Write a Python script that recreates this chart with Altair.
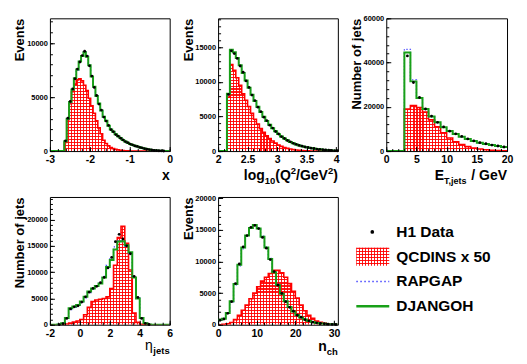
import altair as alt
import numpy as np
import pandas as pd

FONT = "Liberation Sans"
RED = "#ff0000"
GREEN = "#18a018"
BLUE = "#4646ff"

# ---------------- data ----------------
# panel 1 : x (log10 Bjorken x), bins of 0.06 from -3
x_lo, x_w = -3.0, 0.06
x_djangoh = [0, 0, 0, 0, 0, 0, 900, 3000, 4550, 5700, 6750, 7550, 8300, 8800, 9150, 8750, 7950, 6900, 5950, 5100,
             4400, 3750, 3180, 2800, 2350, 2000, 1780, 1550, 1370, 1200, 1020, 890, 770, 660, 570, 490, 420, 350, 290, 230,
             180, 140, 105, 75, 50, 35, 20, 10, 0, 0]
x_rapgap = [0, 0, 0, 0, 0, 0, 850, 2950, 4500, 5650, 6700, 7500, 8250, 8800, 9200, 8800, 8000, 6950, 5950, 5100,
            4400, 3750, 3200, 2780, 2350, 2020, 1770, 1550, 1360, 1190, 1020, 880, 760, 650, 560, 480, 410, 340, 280, 225,
            175, 135, 100, 72, 48, 32, 18, 9, 0, 0]
x_data = [0, 0, 0, 0, 0, 0, 950, 3050, 4600, 5750, 6700, 7600, 8250, 8850, 9250, 8800, 7900, 6950, 5900, 5150,
          4350, 3800, 3150, 2780, 2380, 1980, 1790, 1530, 1380, 1190, 1030, 880, 780, 650, 580, 480, 430, 340, 300, 225,
          185, 135, 110, 70, 52, 32, 22, 8, 0, 0]
x_qcdins = [0, 0, 0, 0, 0, 0, 800, 2900, 4400, 5500, 6200, 6600, 6700, 6500, 6100, 5600, 4900, 4200, 3500, 2800,
            2150, 1600, 1000, 700, 480, 330, 230, 160, 110, 70, 45, 25, 15, 0, 0, 0, 0, 0, 0, 0,
            0, 0, 0, 0, 0, 0, 0, 0, 0, 0]

# panel 2 : log10(Q2/GeV2), bins of 0.05 from 2.0
q_lo, q_w = 2.0, 0.05
q_djangoh = [0, 0, 0, 8300, 14650, 14300, 13450, 12400, 11300, 10200, 9150, 8150, 7250, 6400, 5650, 4950, 4350, 3800,
             3300, 2850, 2450, 2100, 1800, 1550, 1320, 1130, 960, 820, 700, 600, 510, 430, 360, 300, 250, 200, 160, 120,
             90, 60, 40]
q_rapgap = [0, 0, 0, 8100, 14500, 14250, 13400, 12450, 11350, 10200, 9100, 8100, 7200, 6350, 5600, 4950, 4300, 3780,
            3280, 2830, 2440, 2080, 1790, 1540, 1310, 1120, 950, 810, 690, 590, 500, 420, 350, 290, 240, 195, 155, 115,
            85, 58, 38]
q_data = [0, 0, 0, 8200, 14500, 14100, 13400, 12300, 11400, 10150, 9200, 8100, 7300, 6350, 5700, 4900, 4400, 3750,
          3320, 2830, 2470, 2080, 1820, 1530, 1330, 1120, 970, 810, 710, 590, 520, 420, 370, 290, 255, 195, 165, 115,
          95, 55, 42]
q_qcdins = [0, 0, 0, 7800, 12500, 11700, 10600, 9500, 8300, 7350, 6450, 5450, 4600, 3900, 3250, 2700, 2200, 1800,
            1450, 1150, 880, 680, 520, 390, 290, 210, 150, 100, 70, 50, 30, 20, 10, 0, 0, 0, 0, 0, 0, 0, 0]

# panel 3 : E_T,jets, bins of 1 GeV from 0
e_lo, e_w = 0.0, 1.0
e_djangoh = [0, 0, 0, 44500, 31500, 24000, 19000, 15600, 13000, 10800, 9100, 7700, 6500, 5450, 4550, 3800, 3200, 2700,
             2250, 1800]
e_rapgap = [0, 0, 0, 46000, 32200, 24200, 19100, 15500, 12900, 10700, 9000, 7600, 6400, 5400, 4500, 3750, 3150, 2650,
            2200, 1780]
e_data = [0, 0, 0, 43000, 31000, 24200, 19000, 15800, 13000, 10900, 9000, 7800, 6600, 5500, 4600, 3800, 3300, 2700,
          2300, 1850]
e_qcdins = [0, 0, 0, 19000, 20600, 19700, 17600, 14100, 11000, 8300, 5900, 4200, 3000, 2000, 1350, 900, 600, 400,
            250, 150]

# panel 4 : eta_jets, bins of 0.25 from -2
h_lo, h_w = -2.0, 0.25
h_djangoh = [0, 0, 50, 300, 1300, 3150, 3450, 3750, 4400, 5300, 6300, 6900, 7350, 7850, 9000, 11000, 12300, 14300,
             15850, 15900, 15100, 13800, 9000, 5000, 1300, 300, 50, 0, 0, 0, 0, 0]
h_rapgap = [0, 0, 40, 250, 1200, 2900, 3300, 3600, 4200, 5100, 6100, 6800, 7300, 7900, 9200, 11300, 12800, 14800,
            16000, 15800, 14900, 13600, 9100, 5100, 1350, 320, 60, 0, 0, 0, 0, 0]
h_data = [0, 0, 30, 200, 1200, 3000, 3400, 3600, 4300, 5300, 6200, 6900, 7300, 8000, 9000, 10800, 12800, 15800,
          17200, 16300, 15000, 13500, 9200, 5200, 1200, 250, 40, 0, 0, 0, 0, 0]
h_qcdins = [0, 0, 0, 50, 150, 300, 500, 700, 1000, 1900, 3300, 4400, 4700, 4850, 5000, 5300, 6900, 11300, 16600,
            18700, 15500, 10400, 2200, 450, 100, 0, 0, 0, 0, 0, 0, 0]

# panel 5 : n_ch, bins of 1 from 0
n_lo, n_w = 0.0, 1.0
n_djangoh = [800, 950, 1850, 3700, 6450, 9500, 12200, 14100, 15300, 15750, 15200, 13900, 12200, 10400, 8300, 6300,
             4900, 3700, 2800, 2100, 1550, 1150, 830, 600, 420, 290, 200, 140, 90, 60, 40]
n_rapgap = [750, 900, 1800, 3600, 6300, 9300, 12000, 14000, 15300, 15800, 15300, 14000, 12300, 10500, 8400, 6400,
            5000, 3750, 2850, 2100, 1560, 1150, 840, 600, 420, 290, 200, 140, 90, 60, 40]
n_data = [700, 900, 1800, 3650, 6500, 9600, 12300, 14100, 15400, 15700, 15200, 13800, 12100, 10300, 8400, 6250,
          4950, 3650, 2750, 2150, 1500, 1180, 800, 620, 400, 300, 190, 150, 85, 65, 35]
n_qcdins = [0, 50, 150, 350, 800, 1500, 2300, 3100, 4100, 5000, 6000, 6900, 7500, 8100, 8600, 8600, 8200, 7500,
            6500, 5300, 4200, 3100, 2200, 1500, 1000, 600, 380, 220, 130, 70, 40]

legend_names = ["H1 Data", "QCDINS x 50", "RAPGAP", "DJANGOH"]

# ---------------- helpers ----------------
CW = {" ": 278, "(": 333, ")": 333, ",": 278, "/": 278, "E": 667, "G": 778, "Q": 778, "T": 611, "V": 667,
      "a": 556, "c": 556, "e": 556, "g": 611, "h": 611, "j": 278, "l": 278, "n": 611, "o": 611, "s": 556,
      "t": 333, "x": 556, "\u03b7": 600}


def tw(s, size):
    return sum(CW.get(c, 556) for c in s) / 1000.0 * size


def stripes(n, horizontal):
    on = "rgba(255,0,0,0.9)"
    off = "rgba(255,0,0,0)"
    stops = []
    for k in range(n):
        a = k / n
        b = (k + 0.36) / n
        c = min((k + 1) / n, 1.0)
        stops += [alt.GradientStop(offset=a, color=on), alt.GradientStop(offset=b, color=on),
                  alt.GradientStop(offset=b, color=off), alt.GradientStop(offset=c, color=off)]
    if horizontal:
        return alt.LinearGradient(gradient="linear", stops=stops, x1=0, x2=0, y1=0, y2=1)
    return alt.LinearGradient(gradient="linear", stops=stops, x1=0, x2=1, y1=0, y2=0)


ONE = pd.DataFrame({"k": [0]})
LAB = "'' + datum.value"


def title_layers(pieces, right_x, base_y):
    total = sum(tw(t, s) for t, s, dy, wgt in pieces)
    x = right_x - total
    out = []
    for t, s, dy, wgt in pieces:
        if t.strip():
            out.append(alt.Chart(ONE).mark_text(text=t, font=FONT, fontSize=s, fontWeight=wgt, color="black",
                                                align="left", baseline="alphabetic")
                       .encode(x=alt.value(x), y=alt.value(base_y + dy)))
        x += tw(t, s)
    return out


def panel(lo, w, dj, rp, dt, qc, xdom, ymax, W, H, xmaj, xmin, ymaj, ymin, ytitle, xpieces, tbase):
    n = len(dj)
    edges = lo + w * np.arange(n + 1)
    step = pd.DataFrame({"e": edges, "dj": dj + [dj[-1]], "rp": rp + [rp[-1]], "qc": qc + [qc[-1]]})
    pts = pd.DataFrame({"c": lo + w * (np.arange(n) + 0.5), "v": dt})
    pts = pts[pts.v > 0]
    xs = alt.Scale(domain=xdom, nice=False, zero=False)
    ys = alt.Scale(domain=[0, ymax], nice=False, zero=False)

    axA_x = alt.Axis(orient="bottom", values=xmaj, ticks=False, tickSize=0, domain=False, grid=False,
                     labelExpr=LAB, labelFont=FONT, labelFontSize=10.5, labelFontWeight="bold",
                     labelColor="black", labelPadding=3.5, labelFlush=False, labelOverlap=False, title=None)
    axA_y = alt.Axis(orient="left", values=ymaj, ticks=False, tickSize=0, domain=False, grid=False,
                     labelExpr=LAB, labelFont=FONT, labelFontSize=7.5, labelFontWeight="bold",
                     labelColor="black", labelPadding=2.5, labelFlush=False, labelOverlap=False,
                     title=ytitle, titleFont=FONT, titleFontSize=13, titleFontWeight="bold", titleColor="black",
                     titleAngle=270, titleAlign="right", titleBaseline="alphabetic", titleX=-26, titleY=0)
    axB_x = alt.Axis(orient="top", offset=-H, values=xmaj, ticks=True, tickSize=4.5, tickColor="black",
                     tickWidth=1, labels=False, domain=False, grid=False, title=None, zindex=1)
    axB_y = alt.Axis(orient="right", offset=-W, values=ymaj, ticks=True, tickSize=4.5, tickColor="black",
                     tickWidth=1, labels=False, domain=False, grid=False, title=None, zindex=1)
    axC_x = alt.Axis(orient="top", offset=-H, values=xmin, ticks=True, tickSize=2.5, tickColor="black",
                     tickWidth=1, labels=False, domain=False, grid=False, title=None, zindex=1)
    axC_y = alt.Axis(orient="right", offset=-W, values=ymin, ticks=True, tickSize=2.5, tickColor="black",
                     tickWidth=1, labels=False, domain=False, grid=False, title=None, zindex=1)

    span_px = (edges[-1] - edges[0]) / (xdom[1] - xdom[0]) * W
    hmax_px = max(qc) / ymax * H
    nV = max(1, int(round(span_px / 3.0)))
    nH = max(1, int(round(hmax_px / 3.0)))

    base = alt.Chart(step)
    hv = base.mark_area(interpolate="step-after", fill=stripes(nV, False), opacity=1, strokeWidth=0,
                        clip=True).encode(x=alt.X("e:Q", scale=xs, axis=axA_x), y=alt.Y("qc:Q", scale=ys, axis=axA_y))
    hh = base.mark_area(interpolate="step-after", fill=stripes(nH, True), opacity=1, strokeWidth=0,
                        clip=True).encode(x=alt.X("e:Q", scale=xs, axis=axB_x), y=alt.Y("qc:Q", scale=ys, axis=axB_y))
    rl = base.mark_line(interpolate="step-after", color=RED, strokeWidth=1.6, clip=True).encode(
        x=alt.X("e:Q", scale=xs, axis=axC_x), y=alt.Y("qc:Q", scale=ys, axis=axC_y))
    bl = base.mark_line(interpolate="step-after", color=BLUE, strokeWidth=1.3, strokeDash=[1.3, 2],
                        clip=True).encode(x=alt.X("e:Q", scale=xs, axis=None), y=alt.Y("rp:Q", scale=ys, axis=None))
    gl = base.mark_line(interpolate="step-after", color=GREEN, strokeWidth=2, clip=True).encode(
        x=alt.X("e:Q", scale=xs, axis=None), y=alt.Y("dj:Q", scale=ys, axis=None))
    pt = alt.Chart(pts).mark_circle(size=8, color="black", opacity=1).encode(
        x=alt.X("c:Q", scale=xs, axis=None), y=alt.Y("v:Q", scale=ys, axis=None))
    layers = [hv, hh, rl, bl, gl, pt] + title_layers(xpieces, W, H + tbase)
    return alt.layer(*layers).resolve_axis(x="independent", y="independent").properties(
        width=W, height=H, view=alt.ViewBackground(stroke="black", strokeWidth=1))


TOPH, BOTH = 133, 128
B = "bold"
p1 = panel(x_lo, x_w, x_djangoh, x_rapgap, x_data, x_qcdins, [-3, 0], 12300, 120, TOPH,
           [-3, -2, -1, 0], list(np.round(np.arange(-3, 0.001, 0.2), 2)),
           [0, 5000, 10000], list(range(0, 12300, 1000)), "Events",
           [("x", 14, 0, B)], 29)
p2 = panel(q_lo, q_w, q_djangoh, q_rapgap, q_data, q_qcdins, [2, 4.03], 19200, 120, TOPH,
           [2, 2.5, 3, 3.5, 4], list(np.round(np.arange(2, 4.03, 0.1), 2)),
           [0, 5000, 10000, 15000], list(range(0, 19200, 1000)), "Events",
           [("log", 14, 0, B), ("10", 9.5, 4, B), ("(Q", 14, 0, B), ("2", 9.5, -6, B), ("/GeV", 14, 0, B),
            ("2", 9.5, -6, B), (")", 14, 0, B)], 29)
p3 = panel(e_lo, e_w, e_djangoh, e_rapgap, e_data, e_qcdins, [0, 20], 60000, 121, TOPH,
           [0, 5, 10, 15, 20], list(range(0, 21, 1)),
           [0, 20000, 40000, 60000], list(range(0, 60001, 4000)), "Number of jets",
           [("E", 14, 0, B), ("T,jets", 9, 4, B), (" ", 14, 0, B), ("/ GeV", 14, 0, B)], 29)
p4 = panel(h_lo, h_w, h_djangoh, h_rapgap, h_data, h_qcdins, [-2, 6], 24300, 120, BOTH,
           [-2, 0, 2, 4, 6], list(np.round(np.arange(-2, 6.001, 0.5), 2)),
           [0, 5000, 10000, 15000, 20000], list(range(0, 24300, 1000)), "Number of jets",
           [("\u03b7", 14, 0, "normal"), ("jets", 9.5, 4, B)], 25)
p5 = panel(n_lo, n_w, n_djangoh, n_rapgap, n_data, n_qcdins, [0, 31], 20200, 120, BOTH,
           [0, 10, 20, 30], list(range(0, 31, 2)),
           [0, 5000, 10000, 15000, 20000], list(range(0, 20200, 1000)), "Events",
           [("n", 14, 0, B), ("ch", 9.5, 4, B)], 26)

# ---------------- legend panel (placed in the third grid column) ----------------
leg = pd.DataFrame({"name": legend_names})
ly = alt.Y("name:N", scale=alt.Scale(type="point", domain=legend_names, range=[35, 109.5], padding=0), axis=None)
RECT = "M-1,-0.545L1,-0.545L1,0.545L-1,0.545Z"
lbase = alt.Chart(leg)
l_dot = lbase.transform_filter(alt.datum.name == "H1 Data").mark_circle(size=14, color="black", opacity=1).encode(
    x=alt.value(-14), y=ly)
l_boxv = lbase.transform_filter(alt.datum.name == "QCDINS x 50").mark_point(
    shape=RECT, size=1089, filled=True, fill=stripes(11, False), opacity=1, strokeWidth=0).encode(
    x=alt.value(-13.5), y=ly)
l_boxh = lbase.transform_filter(alt.datum.name == "QCDINS x 50").mark_point(
    shape=RECT, size=1089, filled=True, fill=stripes(6, True), opacity=1, strokeWidth=0).encode(
    x=alt.value(-13.5), y=ly)
l_blue = lbase.transform_filter(alt.datum.name == "RAPGAP").mark_rule(
    color=BLUE, strokeWidth=1.5, strokeDash=[1.5, 2.5]).encode(x=alt.value(-30), x2=alt.value(3), y=ly)
l_green = lbase.transform_filter(alt.datum.name == "DJANGOH").mark_rule(
    color=GREEN, strokeWidth=2.5).encode(x=alt.value(-30), x2=alt.value(3), y=ly)
l_text = lbase.mark_text(font=FONT, fontSize=15.5, fontWeight="bold", color="black", align="left",
                         baseline="middle").encode(x=alt.value(10), y=ly, text="name:N")
legend = alt.layer(l_dot, l_boxv, l_boxh, l_blue, l_green, l_text).properties(width=121, height=BOTH)

chart = alt.concat(p1, p2, p3, p4, p5, legend, columns=3,
                   spacing=alt.RowColnumber(row=46, column=48.5), bounds="flush", align="each").properties(
    padding={"left": 5, "top": 5, "right": 5, "bottom": 2}
).configure(font=FONT).configure_view(stroke=None)

chart.save("out.html", embed_options={"renderer": "svg", "actions": False})
